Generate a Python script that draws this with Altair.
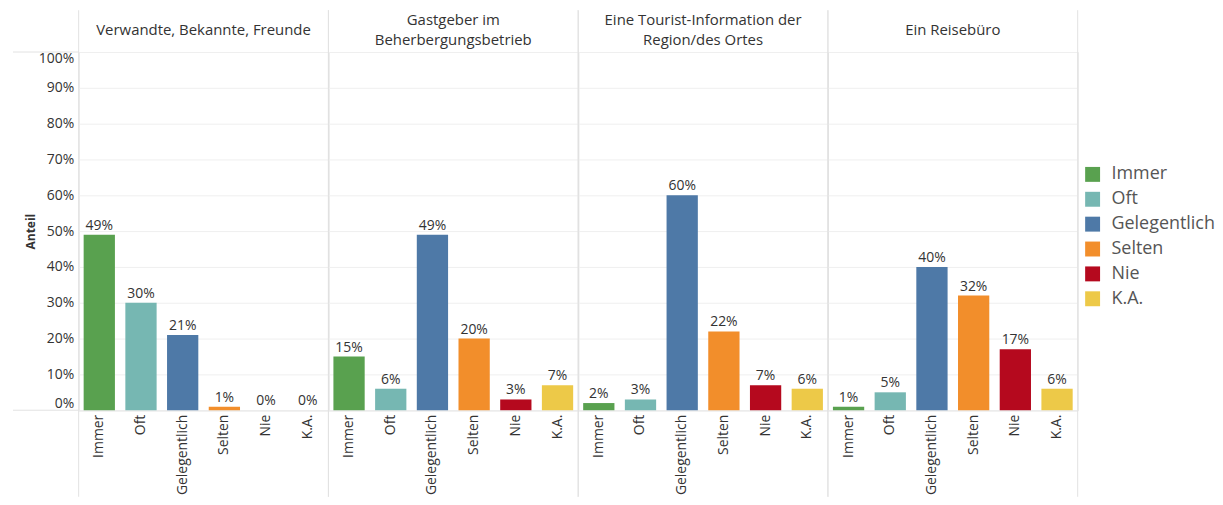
import altair as alt
import pandas as pd

sources = [
    "Verwandte, Bekannte, Freunde",
    "Gastgeber im|Beherbergungsbetrieb",
    "Eine Tourist-Information der|Region/des Ortes",
    "Ein Reisebüro",
]
categories = ["Immer", "Oft", "Gelegentlich", "Selten", "Nie", "K.A."]
colors = ["#59A14F", "#76B7B2", "#4E79A7", "#F28E2B", "#B5091E", "#EDC948"]

verwandte = [49, 30, 21, 1, 0, 0]
gastgeber = [15, 6, 49, 20, 3, 7]
tourist = [2, 3, 60, 22, 7, 6]
reisebuero = [1, 5, 40, 32, 17, 6]

rows = []
for src, vals in zip(sources, [verwandte, gastgeber, tourist, reisebuero]):
    for cat, v in zip(categories, vals):
        rows.append({"source": src, "cat": cat, "value": v / 100.0})
df = pd.DataFrame(rows)

FONT = "Open Sans"
W, H = 251, 360
LINE = "#e2e2e2"

base = alt.Chart(df).encode(
    x=alt.X(
        "cat:N",
        sort=categories,
        title=None,
        scale=alt.Scale(paddingInner=0.25, paddingOuter=0.12),
        axis=alt.Axis(
            labelAngle=270,
            labelFontSize=14,
            labelColor="#333333",
            labelFont=FONT,
            ticks=False,
            domainColor="#d0d0d0",
            labelPadding=4,
        ),
    ),
    y=alt.Y(
        "value:Q",
        scale=alt.Scale(domain=[0, 1], nice=False),
        title="Anteil",
        axis=alt.Axis(
            values=[i / 10 for i in range(11)],
            format=".0%",
            labelFlush=True,
            labelFontSize=14,
            labelColor="#333333",
            labelFont=FONT,
            titleFont=FONT,
            titleFontSize=12,
            titleFontWeight="bold",
            titleColor="#333333",
            titlePadding=1,
            ticks=False,
            domain=False,
            gridColor="#efefef",
            labelPadding=5,
        ),
    ),
)

bars = base.mark_bar().encode(
    color=alt.Color(
        "cat:N",
        sort=categories,
        scale=alt.Scale(domain=categories, range=colors),
        legend=alt.Legend(
            title=None,
            orient="none",
            legendX=1010,
            legendY=114,
            symbolType="square",
            symbolSize=225,
            symbolStrokeWidth=0,
            labelFontSize=18,
            labelColor="#555555",
            labelFont=FONT,
            rowPadding=7,
            labelOffset=10,
        ),
    )
)

labels = base.mark_text(dy=-9, fontSize=14, color="#333333", font=FONT).encode(
    text=alt.Text("value:Q", format=".0%")
)

one = alt.Chart(df).transform_filter(alt.datum.cat == "Immer")
two_line = one.transform_filter("indexof(datum.source, '|') >= 0")
one_line = one.transform_filter("indexof(datum.source, '|') < 0")

text_style = dict(
    lineBreak="|", baseline="middle", align="center", fontSize=15,
    lineHeight=20, font=FONT, color="#333333",
)
header2 = two_line.mark_text(**text_style).encode(
    x=alt.value(W / 2), y=alt.value(-32), text="source:N"
)
header1 = one_line.mark_text(**text_style).encode(
    x=alt.value(W / 2), y=alt.value(-22), text="source:N"
)

vline = one.mark_rule(color=LINE, strokeWidth=1).encode(
    x=alt.value(0), y=alt.value(-42), y2=alt.value(H + 87)
)
vline_right = one.mark_rule(color=LINE, strokeWidth=1).encode(
    x=alt.value(W), y=alt.value(-42), y2=alt.value(H + 87)
)
first = one.transform_filter(alt.datum.source == sources[0])
hline_top = first.mark_rule(color=LINE, strokeWidth=1).encode(
    x=alt.value(-66), x2=alt.value(0), y=alt.value(0)
)
hline_bot = first.mark_rule(color=LINE, strokeWidth=1).encode(
    x=alt.value(-66), x2=alt.value(0), y=alt.value(H)
)

chart = (
    alt.layer(bars, labels, header2, header1, vline, vline_right, hline_top, hline_bot)
    .properties(width=W, height=H)
    .facet(
        column=alt.Column(
            "source:N",
            sort=sources,
            title=None,
            header=alt.Header(labels=False, labelPadding=0),
        ),
        spacing=0,
    )
    .properties(bounds="flush", padding={"left": 4, "top": 0, "right": 0, "bottom": 0})
    .configure_view(stroke="#e2e2e2")
)

chart.save("out.html", embed_options={"renderer": "svg", "actions": False})
